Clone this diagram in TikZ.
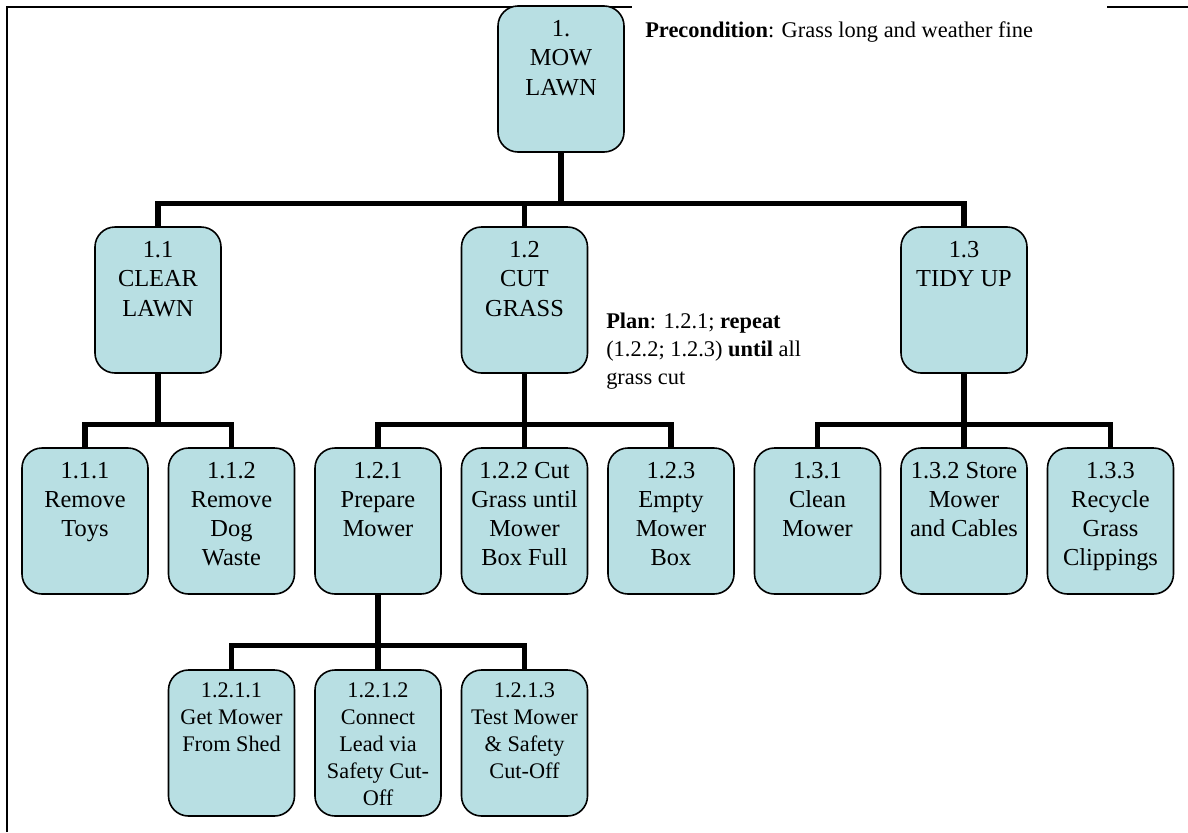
\documentclass[tikz,border=0pt]{standalone}
\usepackage{fontspec}
\setmainfont{Liberation Serif}
\definecolor{taskfill}{RGB}{184,223,227}
% task box contents: text hangs from the top of a fixed-size block
% #1 font size, #2 line spacing, #3 depth of the first baseline, #4 text
\newcommand{\tasktext}[4]{%
  \begin{minipage}[c][109.5pt][t]{94.5pt}\centering\rmfamily
  \fontsize{#1}{#2}\selectfont\rule{0pt}{#3}#4\end{minipage}}
\newcommand{\goaltext}[1]{\tasktext{18.3pt}{21.9pt}{23pt}{#1}}
\newcommand{\optext}[1]{\tasktext{18.3pt}{21.6pt}{23pt}{#1}}
\newcommand{\steptext}[1]{\tasktext{16.7pt}{20.2pt}{20.5pt}{#1}}
\begin{document}
\begin{tikzpicture}[x=0.75pt,y=-0.75pt,
  task/.style={draw=black, line width=1.2pt, fill=taskfill,
    rounded corners=15pt, inner sep=0pt},
  link/.style={line width=3.8pt},
  rule line/.style={line width=1.1pt},
  note/.style={inner sep=0pt, font=\fontsize{16.8}{21.2}\selectfont}]
\useasboundingbox (0,0) rectangle (1188,832);

% page rules
\draw[rule line] (7,832) -- (7,7) -- (632,7);
\draw[rule line] (1107,7) -- (1188,7);

% top goal
\node[task] (t1) at (561,79) {\goaltext{1.\\MOW\\LAWN}};

% sub-goals
\node[task] (t11) at (158,300) {\goaltext{1.1\\CLEAR\\LAWN}};
\node[task] (t12) at (524.5,300) {\goaltext{1.2\\CUT\\GRASS}};
\node[task] (t13) at (964,300) {\goaltext{1.3\\TIDY UP}};

% operations
\node[task] (t111) at (85,521) {\optext{1.1.1\\Remove\\Toys}};
\node[task] (t112) at (231.5,521) {\optext{1.1.2\\Remove\\Dog\\Waste}};
\node[task] (t121) at (378,521) {\optext{1.2.1\\Prepare\\Mower}};
\node[task] (t122) at (524.5,521) {\optext{1.2.2 Cut\\Grass until\\Mower\\Box Full}};
\node[task] (t123) at (671,521) {\optext{1.2.3\\Empty\\Mower\\Box}};
\node[task] (t131) at (817.5,521) {\optext{1.3.1\\Clean\\Mower}};
\node[task] (t132) at (964,521) {\optext{1.3.2 Store\\Mower\\and Cables}};
\node[task] (t133) at (1110.5,521) {\optext{1.3.3\\Recycle\\Grass\\Clippings}};

% preparing the mower
\node[task] (t1211) at (231.5,743) {\steptext{1.2.1.1\\Get Mower\\From Shed}};
\node[task] (t1212) at (378,743) {\steptext{1.2.1.2\\Connect\\Lead via\\Safety Cut-\\Off}};
\node[task] (t1213) at (524.5,743) {\steptext{1.2.1.3\\Test Mower\\\& Safety\\Cut-Off}};

% hierarchy links
\foreach \c in {t11,t12,t13} \draw[link] (t1.south) -- ++(0,51) -| (\c.north);
\foreach \c in {t111,t112} \draw[link] (t11.south) -- ++(0,51) -| (\c.north);
\foreach \c in {t121,t122,t123} \draw[link] (t12.south) -- ++(0,51) -| (\c.north);
\foreach \c in {t131,t132,t133} \draw[link] (t13.south) -- ++(0,51) -| (\c.north);
\foreach \c in {t1211,t1212,t1213} \draw[link] (t121.south) -- ++(0,51) -| (\c.north);

% annotations
\node[note, anchor=base west] (pre) at (645,37)
  {\textbf{Precondition}: Grass long and weather fine};
\node[note, anchor=north west] (plan) at (606,308)
  {\parbox[t]{200pt}{\raggedright\rule{0pt}{15pt}\textbf{Plan}: 1.2.1; \textbf{repeat}\\
   (1.2.2; 1.2.3) \textbf{until} all\\grass cut}};
\end{tikzpicture}
\end{document}
